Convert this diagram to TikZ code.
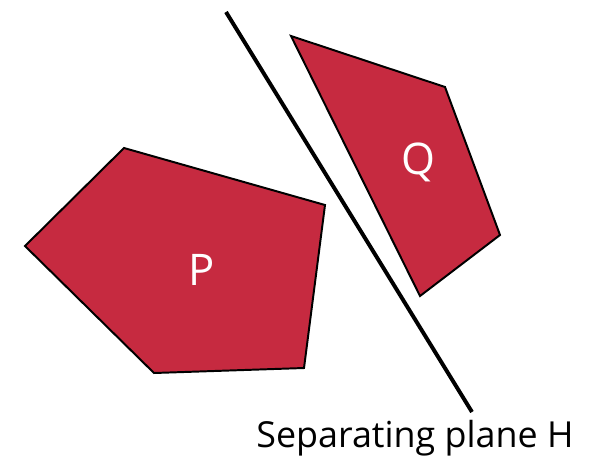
\documentclass[tikz,border=0pt]{standalone}
\usepackage{fontspec}
\setmainfont{Open Sans}
\usepackage{tikz}
\usetikzlibrary{positioning,calc}

\definecolor{setred}{HTML}{C62A40}

\begin{document}
\begin{tikzpicture}[
    x=0.025cm, y=-0.025cm,
    convex/.style={draw=black, fill=setred, line width=1.4pt, line join=miter},
    setlabel/.style={text=white, font=\fontsize{31}{31}\selectfont},
    plane/.style={draw=black, line width=2.8pt},
    caption/.style={font=\fontsize{25.5}{27}\selectfont, inner sep=0pt}
]
    \useasboundingbox (0,0) rectangle (591,456);

    % Set P (pentagon)
    \draw [convex] (124,148) -- (325,205) -- (304,368) -- (154,373) -- (25,246) -- cycle;
    \node [setlabel] (p) at (202,270) {P};

    % Set Q (quadrilateral)
    \draw [convex] (291,36) -- (445,87) -- (500,235) -- (420,296) -- cycle;
    \node [setlabel] (q) at (418,162) {Q};

    % Separating plane
    \coordinate (htop) at (226,12);
    \coordinate (hbot) at (472,412);
    \draw [plane] (htop) -- (hbot);
    \node [caption, anchor=base] (hlabel) at (415,447) {Separating plane H};

\end{tikzpicture}
\end{document}
